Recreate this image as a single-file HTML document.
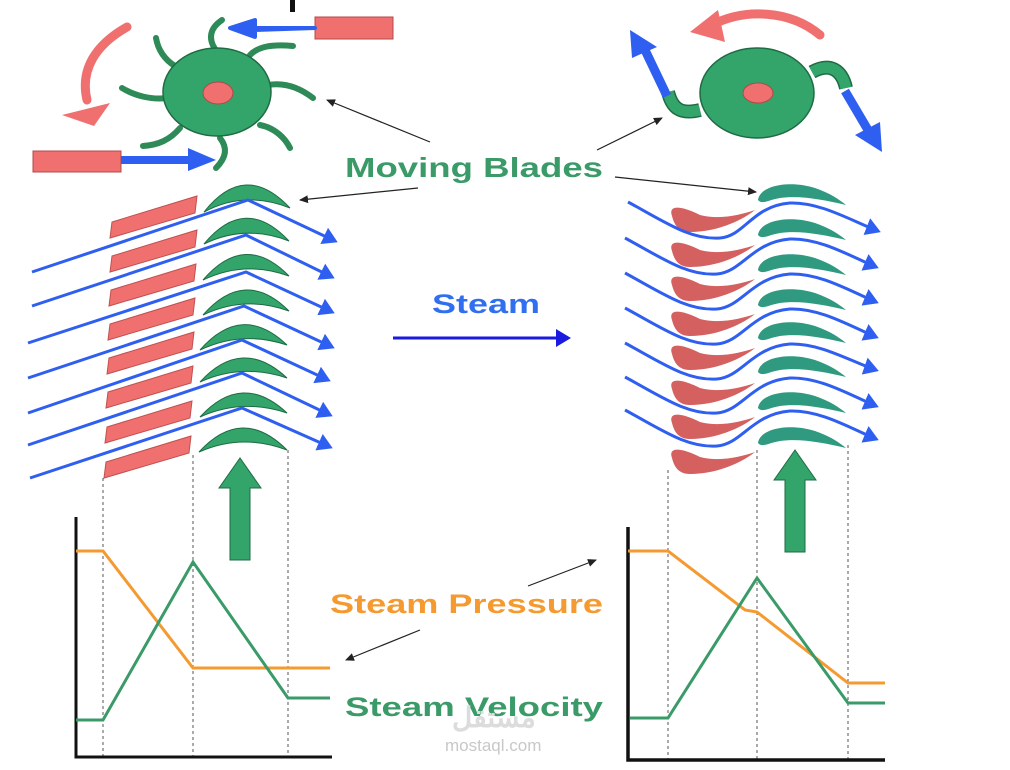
<!DOCTYPE html>
<html><head><meta charset="utf-8"><style>
html,body{margin:0;padding:0;background:#fff;width:1010px;height:770px;overflow:hidden}
svg{display:block}
text{font-family:"Liberation Sans",sans-serif;font-weight:bold}
</style></head><body>
<svg width="1010" height="770" viewBox="0 0 1010 770" xmlns="http://www.w3.org/2000/svg">
<defs>
<marker id="bh" markerWidth="6" markerHeight="6" refX="4" refY="3" orient="auto" markerUnits="strokeWidth"><path d="M0,0 L5,3 L0,6 Z" fill="#2f5ff0"/></marker>
<marker id="kh" markerWidth="10" markerHeight="10" refX="8" refY="5" orient="auto" markerUnits="userSpaceOnUse"><path d="M0,1 L9,5 L0,9 Z" fill="#222"/></marker>
<marker id="dh" markerWidth="6" markerHeight="6" refX="4" refY="3" orient="auto" markerUnits="strokeWidth"><path d="M0,0 L5,3 L0,6 Z" fill="#1a1ae0"/></marker>
</defs>
<rect x="290" y="0" width="5" height="12" fill="#111"/>

<!-- top-left impulse wheel -->
<g fill="none" stroke="#2e8b57" stroke-width="6" stroke-linecap="round">
<path d="M215,49 C208,38 210,28 222,20"/>
<path d="M250,55 C258,47 270,44 293,46"/>
<path d="M268,85 C285,82 300,88 313,98"/>
<path d="M260,125 C275,128 285,138 290,148"/>
<path d="M220,138 C228,148 226,158 216,168"/>
<path d="M180,128 C170,140 158,145 143,146"/>
<path d="M167,98 C152,100 135,96 122,88"/>
<path d="M175,66 C165,60 158,50 156,38"/>
</g>
<ellipse cx="217" cy="92" rx="54" ry="44" fill="#33a56a" stroke="#1f6b44" stroke-width="1.5"/>
<ellipse cx="218" cy="93" rx="15" ry="11" fill="#f07070" stroke="#b04848" stroke-width="1"/>
<rect x="315" y="17" width="78" height="22" fill="#f07070" stroke="#b04848"/>
<path d="M315,28 L255,28 L255,20 L230,28 L255,37 L255,30 Z" fill="#2f5ff0" stroke="#2f5ff0" stroke-width="4" stroke-linejoin="round"/>
<rect x="33" y="151" width="88" height="21" fill="#f07070" stroke="#b04848"/>
<path d="M121,160 L190,160" stroke="#2f5ff0" stroke-width="8"/>
<path d="M188,148 L216,160 L188,171 Z" fill="#2f5ff0"/>
<path d="M127,27 C95,45 80,70 87,100" stroke="#f07070" stroke-width="9" fill="none" stroke-linecap="round"/>
<path d="M62,115 L110,103 L94,126 Z" fill="#f07070"/>

<!-- top-right reaction wheel -->
<path d="M700,110 C680,115 672,108 668,92" stroke="#1f6b44" stroke-width="14" fill="none"/>
<path d="M700,110 C680,115 672,108 668,92" stroke="#33a56a" stroke-width="11" fill="none"/>
<path d="M812,72 C830,62 842,70 846,88" stroke="#1f6b44" stroke-width="14" fill="none"/>
<path d="M812,72 C830,62 842,70 846,88" stroke="#33a56a" stroke-width="11" fill="none"/>
<ellipse cx="757" cy="93" rx="57" ry="45" fill="#33a56a" stroke="#1f6b44" stroke-width="1.5"/>
<ellipse cx="758" cy="93" rx="15" ry="10" fill="#f07070" stroke="#b04848"/>
<path d="M667,96 L645,50" stroke="#2f5ff0" stroke-width="9"/>
<path d="M630,30 L632,58 L657,47 Z" fill="#2f5ff0"/>
<path d="M845,91 L868,130" stroke="#2f5ff0" stroke-width="9"/>
<path d="M882,152 L855,135 L880,122 Z" fill="#2f5ff0"/>
<path d="M820,35 C790,10 745,8 712,25" stroke="#f07070" stroke-width="9" fill="none" stroke-linecap="round"/>
<path d="M690,32 L718,10 L725,42 Z" fill="#f07070"/>

<!-- labels & pointers -->
<g stroke="#222" stroke-width="1.2">
<line x1="430" y1="142" x2="327" y2="100" marker-end="url(#kh)"/>
<line x1="418" y1="188" x2="300" y2="200" marker-end="url(#kh)"/>
<line x1="597" y1="150" x2="662" y2="118" marker-end="url(#kh)"/>
<line x1="615" y1="177" x2="756" y2="192" marker-end="url(#kh)"/>
<line x1="528" y1="586" x2="596" y2="560" marker-end="url(#kh)"/>
<line x1="420" y1="630" x2="346" y2="660" marker-end="url(#kh)"/>
</g>
<text x="345" y="177" font-size="28" fill="#3a9a68" textLength="258" lengthAdjust="spacingAndGlyphs">Moving Blades</text>
<text x="432" y="313" font-size="27" fill="#2f6ff0" textLength="108" lengthAdjust="spacingAndGlyphs">Steam</text>
<line x1="393" y1="338" x2="568" y2="338" stroke="#1a1ae0" stroke-width="3" marker-end="url(#dh)"/>
<text x="330" y="613" font-size="27" fill="#f59a30" textLength="273" lengthAdjust="spacingAndGlyphs">Steam Pressure</text>
<text x="345" y="716" font-size="27" fill="#3a9a68" textLength="258" lengthAdjust="spacingAndGlyphs">Steam Velocity</text>
<text x="452" y="727" font-size="28" fill="#dcdcdc">مستقل</text>
<text x="445" y="751" font-size="17" fill="#c8c8c8" style="font-weight:normal">mostaql.com</text>

<!-- left blades -->
<g fill="#f07070" stroke="#c05050" stroke-width="1">
<path d="M112,222 L197,196 L195,213 L110,238 Z"/>
<path d="M112,256 L197,230 L195,247 L110,272 Z"/>
<path d="M111,290 L196,264 L194,281 L109,306 Z"/>
<path d="M110,324 L195,298 L193,315 L108,340 Z"/>
<path d="M109,358 L194,332 L192,349 L107,374 Z"/>
<path d="M108,392 L193,366 L191,383 L106,408 Z"/>
<path d="M107,427 L192,401 L190,418 L105,443 Z"/>
<path d="M106,462 L191,436 L189,453 L104,478 Z"/>
</g>
<g fill="#33a56a" stroke="#1f6b44" stroke-width="1">
<path d="M204,212 Q245,160 290,208 Q245,190 204,212 Z"/>
<path d="M204,244 Q245,194 289,241 Q245,224 204,244 Z"/>
<path d="M203,280 Q245,231 289,276 Q245,260 203,280 Z"/>
<path d="M203,315 Q245,267 289,311 Q245,295 203,315 Z"/>
<path d="M200,350 Q242,302 287,345 Q242,330 200,350 Z"/>
<path d="M200,382 Q242,336 287,378 Q242,363 200,382 Z"/>
<path d="M200,417 Q242,371 287,413 Q242,398 200,417 Z"/>
<path d="M199,452 Q242,405 287,450 Q242,433 199,452 Z"/>
</g>
<g fill="none" stroke="#2f5ff0" stroke-width="3" marker-end="url(#bh)">
<polyline points="32,272 248,200 335,241"/>
<polyline points="32,306 246,235 332,277"/>
<polyline points="28,343 246,272 332,312"/>
<polyline points="28,378 244,306 332,347"/>
<polyline points="28,413 242,340 328,380"/>
<polyline points="28,445 242,373 330,415"/>
<polyline points="30,478 242,408 330,447"/>
</g>

<!-- right blades -->
<g fill="#d46060">
<path d="M672,216 C668,205 680,205 700,215 C720,220 740,215 755,210 C740,222 715,232 690,232 C678,232 674,224 672,216 Z"/>
<path d="M672,251 C668,240 680,240 700,250 C720,255 740,250 755,245 C740,257 715,267 690,267 C678,267 674,259 672,251 Z"/>
<path d="M672,285 C668,274 680,274 700,284 C720,289 740,284 755,279 C740,291 715,301 690,301 C678,301 674,293 672,285 Z"/>
<path d="M672,320 C668,309 680,309 700,319 C720,324 740,319 755,314 C740,326 715,336 690,336 C678,336 674,328 672,320 Z"/>
<path d="M672,354 C668,343 680,343 700,353 C720,358 740,353 755,348 C740,360 715,370 690,370 C678,370 674,362 672,354 Z"/>
<path d="M672,389 C668,378 680,378 700,388 C720,393 740,388 755,383 C740,395 715,405 690,405 C678,405 674,397 672,389 Z"/>
<path d="M672,423 C668,412 680,412 700,422 C720,427 740,422 755,417 C740,429 715,439 690,439 C678,439 674,431 672,423 Z"/>
<path d="M672,458 C668,447 680,447 700,457 C720,462 740,457 755,452 C740,464 715,474 690,474 C678,474 674,466 672,458 Z"/>
</g>
<g fill="#2f9a80">
<path d="M758,200 C760,185 790,180 815,188 C830,193 840,200 846,205 C825,200 800,195 780,198 C768,200 762,205 758,200 Z"/>
<path d="M758,235 C760,220 790,215 815,223 C830,228 840,235 846,240 C825,235 800,230 780,233 C768,235 762,240 758,235 Z"/>
<path d="M758,270 C760,255 790,250 815,258 C830,263 840,270 846,275 C825,270 800,265 780,268 C768,270 762,275 758,270 Z"/>
<path d="M758,305 C760,290 790,285 815,293 C830,298 840,305 846,310 C825,305 800,300 780,303 C768,305 762,310 758,305 Z"/>
<path d="M758,338 C760,323 790,318 815,326 C830,331 840,338 846,343 C825,338 800,333 780,336 C768,338 762,343 758,338 Z"/>
<path d="M758,372 C760,357 790,352 815,360 C830,365 840,372 846,377 C825,372 800,367 780,370 C768,372 762,377 758,372 Z"/>
<path d="M758,408 C760,393 790,388 815,396 C830,401 840,408 846,413 C825,408 800,403 780,406 C768,408 762,413 758,408 Z"/>
<path d="M758,443 C760,428 790,423 815,431 C830,436 840,443 846,448 C825,443 800,438 780,441 C768,443 762,448 758,443 Z"/>
</g>
<g fill="none" stroke="#2f5ff0" stroke-width="3" marker-end="url(#bh)">
<path d="M628,202 C665,222 690,240 720,238 C745,236 752,206 790,203 C820,202 850,220 878,231"/>
<path d="M625,238 C662,258 687,276 717,274 C742,272 752,242 790,239 C820,238 850,256 876,267"/>
<path d="M625,273 C662,293 687,311 717,309 C742,307 752,277 790,274 C820,273 850,291 876,302"/>
<path d="M625,308 C662,328 687,346 717,344 C742,342 752,312 790,309 C820,308 850,326 876,337"/>
<path d="M625,343 C662,363 687,381 717,379 C742,377 752,347 790,344 C820,343 850,361 876,370"/>
<path d="M625,377 C662,397 687,415 717,413 C742,411 752,381 790,378 C820,377 850,395 876,406"/>
<path d="M625,410 C662,430 687,448 717,446 C742,444 752,414 790,411 C820,410 850,428 876,439"/>
</g>

<!-- dashed guides -->
<g stroke="#555" stroke-width="1" stroke-dasharray="3,3">
<line x1="103" y1="478" x2="103" y2="757"/>
<line x1="193" y1="455" x2="193" y2="757"/>
<line x1="288" y1="450" x2="288" y2="757"/>
<line x1="668" y1="470" x2="668" y2="760"/>
<line x1="757" y1="450" x2="757" y2="760"/>
<line x1="848" y1="445" x2="848" y2="760"/>
</g>

<!-- green up arrows -->
<path d="M230,560 L230,488 L219,488 L240,458 L261,488 L250,488 L250,560 Z" fill="#33a56a" stroke="#1f6b44"/>
<path d="M785,552 L785,480 L774,480 L795,450 L816,480 L805,480 L805,552 Z" fill="#33a56a" stroke="#1f6b44"/>

<!-- graphs -->
<g fill="none" stroke-width="3">
<polyline points="76,517 76,757 332,757" stroke="#111"/>
<polyline points="628,527 628,760 885,760" stroke="#111" stroke-width="3.5"/>
<polyline points="76,551 103,551 193,668 330,668" stroke="#f59a30"/>
<polyline points="76,720 103,720 193,562 288,698 330,698" stroke="#3a9a68"/>
<polyline points="628,551 668,551 745,610 757,612 848,683 885,683" stroke="#f59a30"/>
<polyline points="630,718 668,718 757,578 848,703 885,703" stroke="#3a9a68"/>
</g>
</svg>
</body></html>
